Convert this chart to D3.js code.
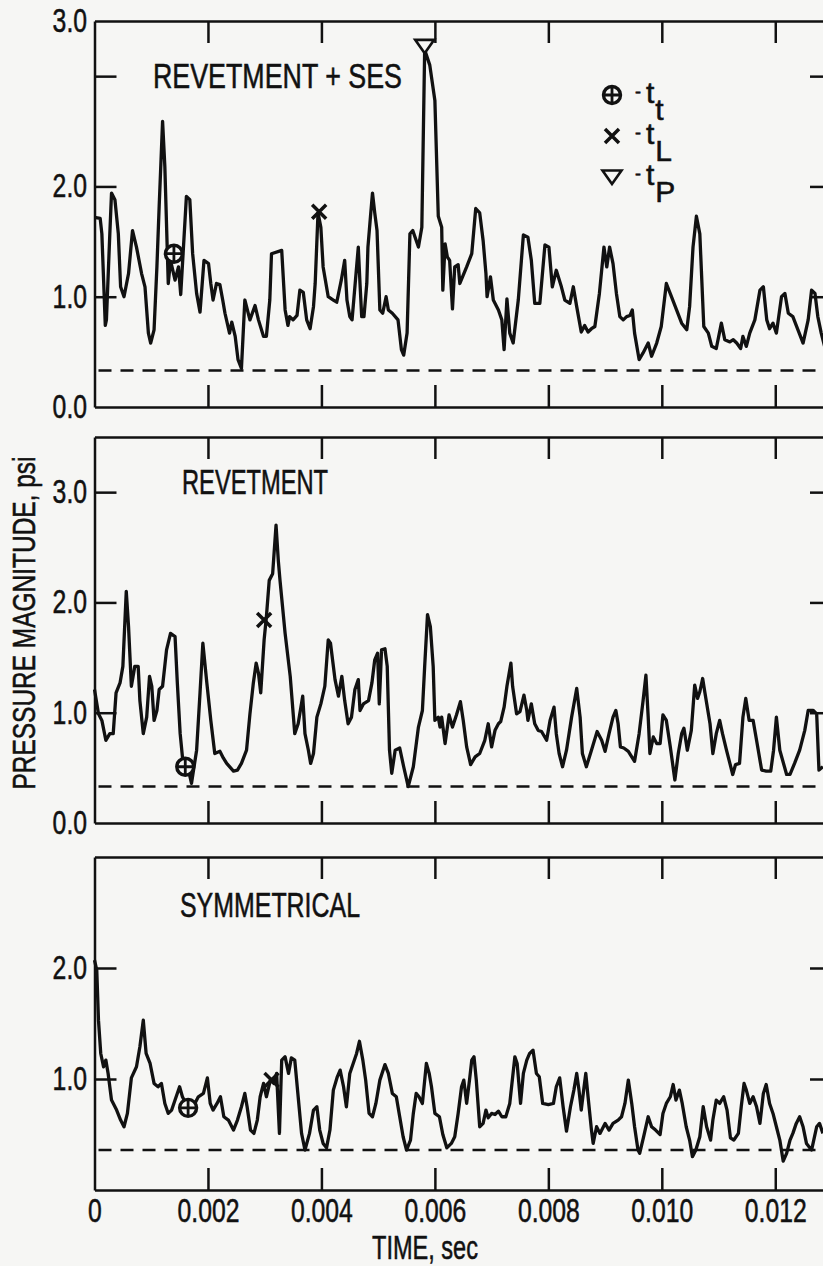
<!DOCTYPE html>
<html>
<head>
<meta charset="utf-8">
<script src="https://cdn.jsdelivr.net/npm/d3@7"></script>
<style>
  body { margin: 0; background: #f6f6f4; }
  svg { display: block; }
  text { font-family: "Liberation Sans", Arial, Helvetica, sans-serif; fill: #111; stroke: #111; stroke-width: 0.55; }
</style>
</head>
<body>
<svg id="chart" width="823" height="1266"></svg>
<script>
// [time (sec), pressure magnitude (psi)]
const sesData = [
  [0, 1.72], [0.00010, 1.71], [0.00013, 1.57], [0.00019, 0.74], [0.00021, 0.79], [0.00027, 1.57],
  [0.00030, 1.94], [0.00036, 1.88], [0.00042, 1.57], [0.00046, 1.09], [0.00052, 1.00], [0.00060, 1.21],
  [0.00067, 1.60], [0.00074, 1.45], [0.00083, 1.21], [0.00089, 1.09], [0.00095, 0.67], [0.00099, 0.58],
  [0.00105, 0.70], [0.00110, 1.27], [0.00114, 1.82], [0.00120, 2.59], [0.00124, 2.18], [0.00130, 1.12],
  [0.00134, 1.33], [0.00142, 1.15], [0.00148, 1.27], [0.00152, 1.02], [0.00162, 1.91], [0.00168, 1.88],
  [0.00173, 1.39], [0.00180, 1.03], [0.00186, 0.86], [0.00193, 1.33], [0.00201, 1.30], [0.00205, 1.12],
  [0.00209, 0.97], [0.00215, 1.12], [0.00221, 1.11], [0.00226, 0.97], [0.00230, 0.85], [0.00238, 0.67],
  [0.00242, 0.77], [0.00248, 0.64], [0.00253, 0.43], [0.00259, 0.35], [0.00265, 0.97], [0.00274, 0.79],
  [0.00283, 0.92], [0.00289, 0.79], [0.00298, 0.64], [0.00303, 0.64], [0.00309, 0.97], [0.00312, 1.39],
  [0.00330, 1.42], [0.00336, 0.88], [0.00341, 0.74], [0.00344, 0.82], [0.00350, 0.79], [0.00357, 0.83],
  [0.00362, 1.06], [0.00368, 1.04], [0.00374, 0.79], [0.00380, 0.71], [0.00386, 0.91], [0.00389, 1.12],
  [0.00394, 1.76], [0.00399, 1.63], [0.00403, 1.27], [0.00412, 1.00], [0.00421, 0.97], [0.00427, 0.95],
  [0.00435, 1.15], [0.00441, 1.33], [0.00445, 0.97], [0.00450, 0.82], [0.00454, 0.79], [0.00457, 0.97],
  [0.00465, 1.45], [0.00468, 1.12], [0.00471, 0.82], [0.00475, 0.82], [0.00480, 1.12], [0.00482, 1.45],
  [0.00487, 1.76], [0.00490, 1.94], [0.00494, 1.76], [0.00498, 1.60], [0.00503, 0.88], [0.00508, 0.85],
  [0.00514, 1.00], [0.00518, 0.88], [0.00525, 0.85], [0.00535, 0.79], [0.00541, 0.52], [0.00545, 0.47],
  [0.00551, 0.67], [0.00556, 1.57], [0.00561, 1.60], [0.00571, 1.45], [0.00577, 1.63], [0.00582, 3.24],
  [0.00591, 3.10], [0.00600, 2.78], [0.00606, 1.73], [0.00612, 1.63], [0.00614, 1.06], [0.00618, 1.48],
  [0.00622, 1.36], [0.00626, 1.33], [0.00631, 0.89], [0.00635, 1.27], [0.00641, 1.29], [0.00644, 1.12],
  [0.00656, 1.27], [0.00665, 1.39], [0.00672, 1.80], [0.00679, 1.76], [0.00685, 1.51], [0.00690, 1.21],
  [0.00692, 1.00], [0.00698, 1.18], [0.00703, 0.97], [0.00712, 0.88], [0.00718, 0.79], [0.00722, 0.52],
  [0.00727, 0.98], [0.00732, 0.67], [0.00738, 0.58], [0.00747, 0.97], [0.00756, 1.56], [0.00764, 1.54],
  [0.00770, 1.33], [0.00776, 0.94], [0.00785, 0.94], [0.00794, 1.47], [0.00801, 1.45], [0.00807, 1.09],
  [0.00814, 1.24], [0.00823, 1.09], [0.00829, 0.97], [0.00838, 0.94], [0.00844, 1.09], [0.00850, 0.91],
  [0.00858, 0.68], [0.00864, 0.74], [0.00870, 0.68], [0.00876, 0.71], [0.00882, 0.73], [0.00890, 1.03],
  [0.00898, 1.45], [0.00903, 1.27], [0.00908, 1.45], [0.00914, 1.30], [0.00920, 1.03], [0.00926, 0.82],
  [0.00932, 0.79], [0.00938, 0.82], [0.00944, 0.83], [0.00948, 0.88], [0.00952, 0.67], [0.00960, 0.43],
  [0.00967, 0.49], [0.00976, 0.58], [0.00982, 0.46], [0.00991, 0.58], [0.00999, 0.73], [0.01008, 1.12],
  [0.01017, 1.00], [0.01026, 0.88], [0.01035, 0.76], [0.01044, 0.70], [0.01049, 0.91], [0.01055, 1.45],
  [0.01061, 1.73], [0.01067, 1.57], [0.01074, 0.73], [0.01082, 0.67], [0.01088, 0.55], [0.01096, 0.53],
  [0.01105, 0.76], [0.01111, 0.61], [0.01120, 0.59], [0.01126, 0.61], [0.01132, 0.58], [0.01139, 0.53],
  [0.01143, 0.64], [0.01149, 0.55], [0.01155, 0.67], [0.01164, 0.79], [0.01173, 1.06], [0.01179, 1.09],
  [0.01185, 0.79], [0.01190, 0.71], [0.01196, 0.76], [0.01202, 0.67], [0.01211, 1.00], [0.01217, 1.03],
  [0.01223, 0.85], [0.01231, 0.82], [0.01240, 0.70], [0.01249, 0.58], [0.01258, 0.79], [0.01264, 1.06],
  [0.01270, 1.03], [0.01275, 0.82], [0.01281, 0.67], [0.01287, 0.55]
]

const revData = [
  [0, 1.21], [0.00007, 0.99], [0.00013, 0.93], [0.00020, 0.75], [0.00027, 0.81], [0.00033, 0.81],
  [0.00038, 1.18], [0.00045, 1.27], [0.00050, 1.42], [0.00056, 2.10], [0.00060, 1.78], [0.00065, 1.24],
  [0.00071, 1.42], [0.00077, 1.42], [0.00080, 1.11], [0.00086, 0.81], [0.00092, 0.96], [0.00097, 1.33],
  [0.00101, 1.24], [0.00105, 0.93], [0.00110, 1.02], [0.00114, 1.21], [0.00120, 1.24], [0.00127, 1.57],
  [0.00134, 1.72], [0.00142, 1.69], [0.00146, 1.27], [0.00151, 0.81], [0.00155, 0.60], [0.00163, 0.54],
  [0.00171, 0.36], [0.00180, 0.66], [0.00186, 1.18], [0.00191, 1.63], [0.00198, 1.27], [0.00205, 0.93],
  [0.00212, 0.63], [0.00221, 0.65], [0.00227, 0.59], [0.00233, 0.54], [0.00245, 0.47], [0.00252, 0.48],
  [0.00259, 0.54], [0.00268, 0.66], [0.00274, 0.99], [0.00280, 1.27], [0.00285, 1.45], [0.00289, 1.36],
  [0.00293, 1.18], [0.00299, 1.66], [0.00303, 1.87], [0.00308, 2.20], [0.00314, 2.26], [0.00320, 2.70],
  [0.00324, 2.38], [0.00327, 2.20], [0.00336, 1.72], [0.00345, 1.33], [0.00353, 0.81], [0.00359, 0.90],
  [0.00367, 1.15], [0.00371, 0.81], [0.00377, 0.66], [0.00381, 0.54], [0.00386, 0.63], [0.00392, 0.96],
  [0.00399, 1.08], [0.00406, 1.24], [0.00412, 1.66], [0.00416, 1.63], [0.00424, 1.30], [0.00430, 1.15],
  [0.00436, 1.33], [0.00441, 1.11], [0.00447, 0.90], [0.00453, 0.96], [0.00459, 1.21], [0.00465, 1.30],
  [0.00468, 1.02], [0.00474, 1.08], [0.00483, 1.11], [0.00489, 1.27], [0.00494, 1.48], [0.00499, 1.54],
  [0.00502, 1.08], [0.00506, 1.57], [0.00512, 1.58], [0.00516, 1.42], [0.00520, 0.66], [0.00524, 0.45],
  [0.00530, 0.66], [0.00538, 0.68], [0.00545, 0.51], [0.00553, 0.33], [0.00562, 0.51], [0.00571, 0.87],
  [0.00578, 1.02], [0.00582, 1.42], [0.00587, 1.89], [0.00592, 1.78], [0.00597, 1.42], [0.00600, 0.93],
  [0.00606, 0.96], [0.00609, 0.87], [0.00612, 0.96], [0.00618, 0.72], [0.00625, 0.98], [0.00631, 0.87],
  [0.00638, 0.98], [0.00645, 1.10], [0.00650, 0.93], [0.00656, 0.69], [0.00663, 0.53], [0.00671, 0.60],
  [0.00679, 0.63], [0.00688, 0.75], [0.00694, 0.90], [0.00700, 0.69], [0.00706, 0.84], [0.00712, 0.90],
  [0.00716, 0.92], [0.00722, 1.05], [0.00727, 1.24], [0.00734, 1.45], [0.00737, 1.24], [0.00744, 0.99],
  [0.00750, 1.01], [0.00757, 1.16], [0.00762, 1.02], [0.00764, 0.93], [0.00770, 1.08], [0.00776, 0.90],
  [0.00782, 0.84], [0.00788, 0.83], [0.00797, 0.75], [0.00803, 0.93], [0.00810, 1.05], [0.00814, 0.81],
  [0.00819, 0.63], [0.00825, 0.51], [0.00832, 0.66], [0.00841, 0.96], [0.00850, 1.22], [0.00856, 0.96],
  [0.00860, 0.63], [0.00867, 0.51], [0.00876, 0.66], [0.00886, 0.83], [0.00894, 0.75], [0.00900, 0.65],
  [0.00907, 0.81], [0.00914, 0.96], [0.00919, 1.02], [0.00923, 0.90], [0.00927, 0.69], [0.00933, 0.68],
  [0.00941, 0.65], [0.00947, 0.60], [0.00952, 0.56], [0.00960, 0.81], [0.00967, 1.11], [0.00972, 1.34],
  [0.00976, 0.96], [0.00979, 0.63], [0.00985, 0.78], [0.00991, 0.72], [0.00997, 0.72], [0.01002, 0.98],
  [0.01008, 0.93], [0.01015, 0.69], [0.01023, 0.39], [0.01029, 0.63], [0.01035, 0.81], [0.01039, 0.86],
  [0.01045, 0.66], [0.01052, 0.84], [0.01058, 1.25], [0.01063, 1.13], [0.01067, 1.19], [0.01072, 1.31],
  [0.01076, 1.18], [0.01085, 0.90], [0.01090, 0.63], [0.01096, 0.81], [0.01102, 0.93], [0.01107, 0.81],
  [0.01114, 0.66], [0.01120, 0.54], [0.01125, 0.44], [0.01130, 0.53], [0.01137, 0.54], [0.01143, 0.96],
  [0.01148, 1.13], [0.01154, 0.93], [0.01161, 0.93], [0.01168, 0.72], [0.01176, 0.48], [0.01184, 0.47],
  [0.01192, 0.47], [0.01197, 0.66], [0.01202, 0.96], [0.01208, 0.66], [0.01220, 0.44], [0.01226, 0.44],
  [0.01234, 0.54], [0.01243, 0.66], [0.01252, 0.84], [0.01258, 1.02], [0.01267, 1.02], [0.01273, 0.99],
  [0.01277, 0.48], [0.01284, 0.51]
]

const symData = [
  [0, 2.07], [0.00004, 1.98], [0.00007, 1.53], [0.00011, 1.23], [0.00016, 1.11], [0.00020, 1.17],
  [0.00024, 1.05], [0.00030, 0.81], [0.00039, 0.72], [0.00046, 0.63], [0.00052, 0.57], [0.00058, 0.69],
  [0.00065, 1.01], [0.00074, 1.11], [0.00080, 1.29], [0.00086, 1.53], [0.00091, 1.23], [0.00098, 1.14],
  [0.00105, 0.96], [0.00112, 0.93], [0.00118, 0.96], [0.00124, 0.78], [0.00130, 0.69], [0.00136, 0.72],
  [0.00142, 0.81], [0.00150, 0.93], [0.00155, 0.84], [0.00161, 0.78], [0.00167, 0.81], [0.00174, 0.75],
  [0.00183, 0.84], [0.00192, 0.87], [0.00199, 1.01], [0.00204, 0.78], [0.00209, 0.72], [0.00216, 0.78],
  [0.00222, 0.84], [0.00228, 0.66], [0.00236, 0.63], [0.00245, 0.54], [0.00252, 0.63], [0.00259, 0.75],
  [0.00265, 0.87], [0.00269, 0.75], [0.00275, 0.54], [0.00281, 0.51], [0.00287, 0.63], [0.00292, 0.84],
  [0.00298, 0.96], [0.00303, 0.84], [0.00310, 0.99], [0.00316, 0.96], [0.00321, 1.05], [0.00326, 0.51],
  [0.00330, 1.17], [0.00336, 1.20], [0.00342, 1.05], [0.00347, 1.19], [0.00353, 1.17], [0.00359, 0.84],
  [0.00365, 0.51], [0.00371, 0.36], [0.00379, 0.51], [0.00386, 0.72], [0.00392, 0.75], [0.00397, 0.54],
  [0.00403, 0.42], [0.00409, 0.38], [0.00415, 0.54], [0.00421, 0.90], [0.00428, 1.02], [0.00433, 1.08],
  [0.00439, 0.93], [0.00444, 0.75], [0.00450, 1.05], [0.00456, 1.14], [0.00462, 1.23], [0.00467, 1.34],
  [0.00473, 1.17], [0.00478, 0.99], [0.00484, 0.69], [0.00490, 0.66], [0.00496, 0.78], [0.00503, 0.99],
  [0.00512, 1.13], [0.00518, 1.05], [0.00525, 0.87], [0.00532, 0.84], [0.00538, 0.66], [0.00544, 0.48],
  [0.00550, 0.36], [0.00557, 0.45], [0.00562, 0.69], [0.00567, 0.87], [0.00572, 0.84], [0.00578, 0.78],
  [0.00585, 1.14], [0.00590, 1.05], [0.00594, 0.93], [0.00600, 0.69], [0.00608, 0.66], [0.00614, 0.50],
  [0.00621, 0.38], [0.00629, 0.42], [0.00635, 0.48], [0.00641, 0.69], [0.00647, 0.93], [0.00651, 0.99],
  [0.00656, 0.78], [0.00661, 0.99], [0.00665, 1.17], [0.00669, 1.20], [0.00673, 0.99], [0.00679, 0.57],
  [0.00685, 0.60], [0.00690, 0.72], [0.00694, 0.65], [0.00700, 0.69], [0.00706, 0.68], [0.00712, 0.71],
  [0.00718, 0.66], [0.00725, 0.66], [0.00732, 0.78], [0.00741, 1.20], [0.00745, 1.14], [0.00751, 0.78],
  [0.00756, 1.05], [0.00762, 1.17], [0.00767, 1.23], [0.00773, 1.26], [0.00779, 1.05], [0.00784, 1.02],
  [0.00790, 0.78], [0.00800, 0.77], [0.00809, 0.78], [0.00814, 0.93], [0.00820, 1.01], [0.00826, 0.75],
  [0.00832, 0.53], [0.00839, 0.75], [0.00845, 0.90], [0.00850, 1.05], [0.00854, 0.90], [0.00858, 0.72],
  [0.00863, 0.93], [0.00866, 1.05], [0.00870, 0.84], [0.00876, 0.54], [0.00879, 0.42], [0.00885, 0.57],
  [0.00891, 0.51], [0.00900, 0.60], [0.00907, 0.54], [0.00914, 0.60], [0.00923, 0.63], [0.00929, 0.66],
  [0.00935, 0.78], [0.00941, 0.99], [0.00947, 0.78], [0.00952, 0.57], [0.00958, 0.36], [0.00961, 0.33],
  [0.00968, 0.48], [0.00976, 0.66], [0.00982, 0.57], [0.00989, 0.54], [0.00997, 0.50], [0.01002, 0.69],
  [0.01008, 0.78], [0.01015, 0.84], [0.01020, 0.95], [0.01025, 0.81], [0.01031, 0.90], [0.01036, 0.78],
  [0.01043, 0.57], [0.01049, 0.45], [0.01054, 0.30], [0.01060, 0.36], [0.01067, 0.48], [0.01073, 0.75],
  [0.01079, 0.57], [0.01086, 0.45], [0.01090, 0.63], [0.01096, 0.81], [0.01102, 0.78], [0.01109, 0.84],
  [0.01115, 0.72], [0.01121, 0.47], [0.01127, 0.45], [0.01135, 0.51], [0.01140, 0.75], [0.01145, 0.96],
  [0.01149, 0.90], [0.01155, 0.78], [0.01161, 0.84], [0.01167, 0.75], [0.01173, 0.60], [0.01179, 0.87],
  [0.01184, 0.95], [0.01190, 0.78], [0.01196, 0.69], [0.01202, 0.57], [0.01208, 0.45], [0.01214, 0.26],
  [0.01220, 0.33], [0.01226, 0.45], [0.01231, 0.51], [0.01237, 0.60], [0.01243, 0.66], [0.01249, 0.57],
  [0.01255, 0.42], [0.01264, 0.36], [0.01273, 0.57], [0.01278, 0.60], [0.01284, 0.51]
]

// event markers: tt = circled plus, tL = cross, tP = triangle
const sesMarkers = [{ kind: "tt", t: 0.00140, p: 1.39 }, { kind: "tL", t: 0.00396, p: 1.77 }, { kind: "tP", t: 0.00582, p: 3.27 }]
const revMarkers = [{ kind: "tt", t: 0.00160, p: 0.51 }, { kind: "tL", t: 0.00299, p: 1.84 }]
const symMarkers = [{ kind: "tt", t: 0.00165, p: 0.74 }, { kind: "tL", t: 0.00312, p: 0.99 }]

// dashed reference level (psi)
const sesLevel = 0.33
const revLevel = 0.33
const symLevel = 0.36

const timeTicks = [0.002, 0.004, 0.006, 0.008, 0.010, 0.012]
const timeLabels = [0, 0.002, 0.004, 0.006, 0.008, 0.010, 0.012]
const sesPsiTicks = [1, 2, 3]
const revPsiTicks = [1, 2, 3]
const symPsiTicks = [1, 2]
// the top panel prints its "3.0" at the corner of the frame
const sesPsiLabels = [[0, "0.0"], [1, "1.0"], [2, "2.0"], [3.5, "3.0"]]
const revPsiLabels = [[0, "0.0"], [1, "1.0"], [2, "2.0"], [3, "3.0"]]
const symPsiLabels = [[1, "1.0"], [2, "2.0"]]
const legendItems = [{ kind: "tt", sub: "t" }, { kind: "tL", sub: "L" }, { kind: "tP", sub: "P" }]

const svg = d3.select("#chart")
const ink = "#111"
const paper = "#f6f6f4"
const squeeze = "scale(0.75,1)"   // condensed look for the tick numbers
const x = d3.scaleLinear().domain([0, 0.013]).range([94.5, 832])

const panels = [
  { title: "REVETMENT + SES", titleX: 153, titleY: 88, titleW: 249, data: sesData, markers: sesMarkers, level: sesLevel,
    top: 21, bottom: 407, maxP: 3.5, ticks: sesPsiTicks, labels: sesPsiLabels },
  { title: "REVETMENT", titleX: 182, titleY: 494, titleW: 146, data: revData, markers: revMarkers, level: revLevel,
    top: 437, bottom: 823, maxP: 3.5, ticks: revPsiTicks, labels: revPsiLabels },
  { title: "SYMMETRICAL", titleX: 180, titleY: 917, titleW: 180, data: symData, markers: symMarkers, level: symLevel,
    top: 857, bottom: 1190, maxP: 3.0, ticks: symPsiTicks, labels: symPsiLabels }
]

function drawMarker(g, kind, cx, cy) {
  const m = g.append("g").attr("transform", `translate(${cx},${cy})`)
  if (kind == "tt") {
    m.append("circle").attr("r", 8.5).attr("fill", paper).attr("stroke", ink).attr("stroke-width", 3.4)
    m.append("path").attr("d", "M-8,0H8M0,-8V8").attr("stroke", ink).attr("stroke-width", 2.8)
  } else if (kind == "tL") {
    m.append("path").attr("d", "M-7,-7L7,7M7,-7L-7,7").attr("stroke", ink).attr("stroke-width", 3.5)
  } else {
    m.append("path").attr("d", "M-9.5,-6.5H9.5L0,7Z").attr("fill", paper).attr("stroke", ink).attr("stroke-width", 2.6)
  }
}

panels.forEach(panel => {
  const y = d3.scaleLinear().domain([0, panel.maxP]).range([panel.bottom, panel.top])
  const g = svg.append("g")

  // frame with inward ticks on all four sides
  const frame = [
    [d3.axisLeft(y).tickValues(panel.ticks), x(0), 0],
    [d3.axisRight(y).tickValues(panel.ticks), x(0.013), 0],
    [d3.axisTop(x).tickValues(timeTicks), 0, panel.top],
    [d3.axisBottom(x).tickValues(timeTicks), 0, panel.bottom]
  ]
  frame.forEach(([axis, tx, ty]) => {
    const a = g.append("g").attr("transform", `translate(${tx},${ty})`)
      .call(axis.tickSize(-22).tickSizeOuter(0).tickFormat(""))
    a.selectAll("path, line").attr("stroke", ink).attr("stroke-width", 2.5)
  })

  // psi labels
  const labelAxis = g.append("g").attr("transform", `translate(${x(0)},0)`)
    .call(d3.axisLeft(y).tickValues(panel.labels.map(d => d[0]))
      .tickFormat((d, i) => panel.labels[i][1]).tickSize(0).tickPadding(10))
  labelAxis.select(".domain").remove()
  labelAxis.attr("font-family", null).attr("font-size", null)
  labelAxis.selectAll("text").attr("font-size", 33).attr("fill", ink).attr("transform", squeeze)

  g.append("text").attr("x", panel.titleX).attr("y", panel.titleY)
    .attr("font-size", 35).attr("textLength", panel.titleW).attr("lengthAdjust", "spacingAndGlyphs")
    .text(panel.title)

  g.append("line")
    .attr("x1", x(0) + 4).attr("x2", x(0.013))
    .attr("y1", y(panel.level)).attr("y2", y(panel.level))
    .attr("stroke", ink).attr("stroke-width", 2.5).attr("stroke-dasharray", "13,9")

  const line = d3.line().x(d => x(d[0])).y(d => y(d[1]))
  g.append("path").datum(panel.data).attr("d", line)
    .attr("fill", "none").attr("stroke", ink).attr("stroke-width", 3.3).attr("stroke-linejoin", "round")

  panel.markers.forEach(mk => drawMarker(g, mk.kind, x(mk.t), y(mk.p)))
})

// time labels under the bottom panel
const timeAxis = svg.append("g").attr("transform", `translate(0,${panels[2].bottom})`)
  .call(d3.axisBottom(x).tickValues(timeLabels).tickSize(0).tickPadding(9)
    .tickFormat(d => d == 0 ? "0" : d3.format(".3f")(d)))
timeAxis.select(".domain").remove()
timeAxis.attr("font-family", null).attr("font-size", null)
timeAxis.selectAll("text").attr("font-size", 33).attr("fill", ink).attr("transform", squeeze)

svg.append("text").attr("x", 425).attr("y", 1259).attr("text-anchor", "middle")
  .attr("font-size", 34).attr("textLength", 106).attr("lengthAdjust", "spacingAndGlyphs")
  .text("TIME, sec")

svg.append("text").attr("transform", "translate(35,623) rotate(-90)").attr("text-anchor", "middle")
  .attr("font-size", 31).attr("textLength", 333).attr("lengthAdjust", "spacingAndGlyphs")
  .text("PRESSURE MAGNITUDE, psi")

// legend
const legend = svg.append("g").attr("transform", "translate(612,95)")
legendItems.forEach((item, i) => {
  const ly = i * 41
  drawMarker(legend, item.kind, 0, ly)
  const t = legend.append("text").attr("x", 23).attr("y", ly + 8).attr("font-size", 30)
  t.append("tspan").attr("font-size", 18).attr("dy", -5).text("-")
  t.append("tspan").attr("dx", 5).attr("dy", 5).text("t")
  t.append("tspan").attr("dx", 1).attr("dy", 17).text(item.sub)
})
</script>
</body>
</html>
